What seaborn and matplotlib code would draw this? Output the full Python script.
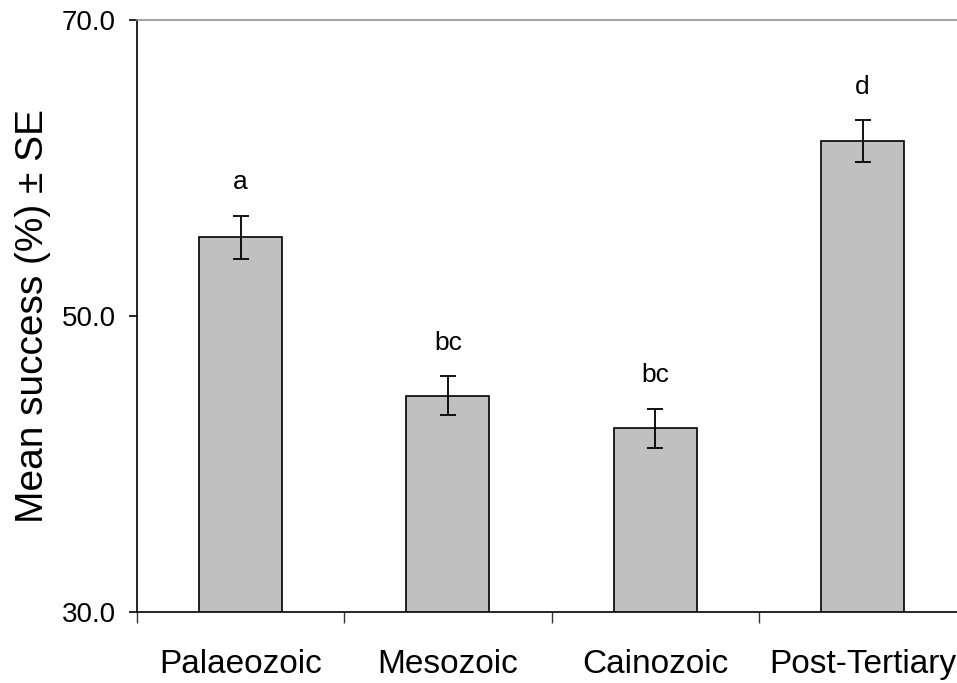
import numpy as np
import pandas as pd
import seaborn as sns
from matplotlib import pyplot as plt

# values
periods = ['Palaeozoic', 'Mesozoic', 'Cainozoic', 'Post-Tertiary']
mean_success = [55.3, 44.6, 42.4, 61.8]
se = [1.45, 1.32, 1.32, 1.42]
letters = ['a', 'bc', 'bc', 'd']

sns.set_style("white")
plt.rcParams['font.family'] = ['Liberation Sans', 'DejaVu Sans']
plt.rcParams['text.color'] = 'black'
plt.rcParams['axes.labelcolor'] = 'black'
plt.rcParams['xtick.color'] = 'black'
plt.rcParams['ytick.color'] = 'black'

df = pd.DataFrame({'Period': periods, 'Mean': mean_success, 'SE': se})

fig = plt.figure(figsize=(9.57, 6.83), dpi=100)
ax = fig.add_axes([0.143, 0.104, 0.857, 0.867])

sns.barplot(data=df, x='Period', y='Mean', color='#c0c0c0', saturation=1,
            edgecolor='black', linewidth=1.2, width=0.4, errorbar=None, ax=ax)
ax.errorbar(np.arange(len(periods)), df['Mean'], yerr=df['SE'], fmt='none',
            ecolor='black', elinewidth=1.3, capsize=5.5, capthick=1.3)

for i, row in df.iterrows():
    ax.text(i, row['Mean'] + row['SE'] + 1.8, letters[i], ha='center',
            va='baseline', fontsize=19, color='black')

ax.set_ylim(30, 70)
ax.set_xlim(-0.5, 3.455)
ax.set_yticks([30, 50, 70])
ax.set_yticklabels(['30.0', '50.0', '70.0'], fontsize=20)
ax.set_xticks(range(len(periods)))
ax.set_xticklabels(periods, fontsize=24)
ax.set_xticks([-0.5, 0.5, 1.5, 2.5], minor=True)
ax.tick_params(axis='x', which='major', length=0, pad=27, labelcolor='black')
ax.tick_params(axis='x', which='minor', direction='out', length=8,
               width=1, color='#333333', bottom=True)
ax.tick_params(axis='y', direction='out', length=6, width=1.2, color='black',
               pad=9, left=True, labelcolor='black')

ax.set_xlabel('')
ax.set_ylabel('Mean success (%) ± SE', fontsize=28, labelpad=8, color='black')

for s in ['left', 'bottom']:
    ax.spines[s].set_color('black')
    ax.spines[s].set_linewidth(1.2)
ax.spines['top'].set_color('#909090')
ax.spines['top'].set_linewidth(1.2)
ax.spines['right'].set_visible(False)

fig.savefig('out.png', dpi=100)
